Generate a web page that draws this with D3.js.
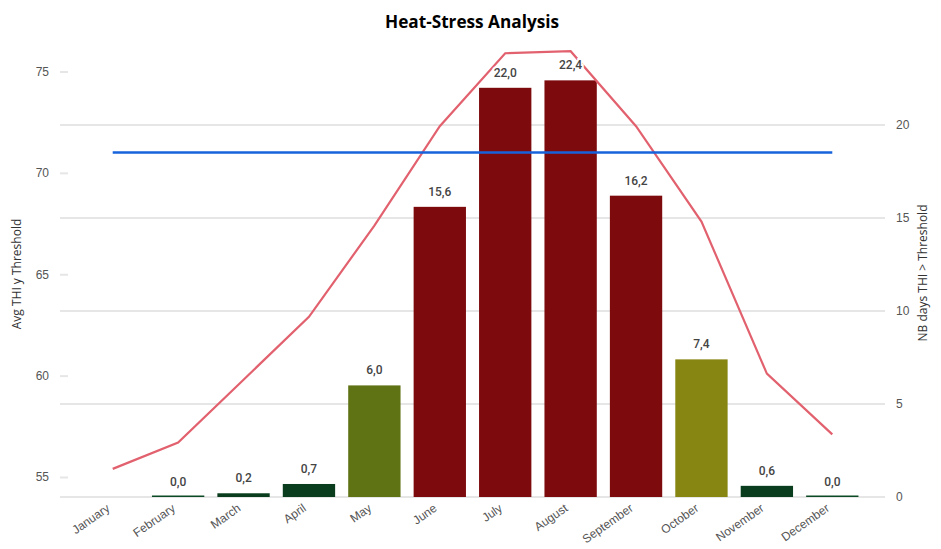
<!DOCTYPE html>
<html>
<head>
<title>Heat-Stress Analysis</title>
<script src="https://d3js.org/d3.v7.min.js"></script>
<style>
    html, body { margin: 0; padding: 0; background: white; }
    svg { display: block; font-family: 'Open Sans', sans-serif; }
    .grid line { stroke: #e6e6e6; stroke-width: 2; }
    .axis text { fill: #555; font-size: 12px; }
    .axis path { display: none; }
    .axis line { stroke: #e6e6e6; stroke-width: 2; }
</style>
</head>
<body>
<svg></svg>
<script>
let width = 941, height = 549

let months = ["January", "February", "March", "April", "May", "June", "July", "August", "September", "October", "November", "December"]
// NB days THI > Threshold (January has no bar)
let nbDays = [null, 0.0, 0.2, 0.7, 6.0, 15.6, 22.0, 22.4, 16.2, 7.4, 0.6, 0.0]
let barColors = [null, "#0c4a26", "#0a3d1d", "#0a3d1d", "#5f7314", "#7d0b0e", "#7d0b0e", "#7d0b0e", "#7d0b0e", "#878613", "#0a3d1d", "#0c4a26"]
// Avg THI
let avgThi = [55.4, 56.7, 59.8, 62.9, 67.4, 72.3, 75.9, 76.0, 72.3, 67.6, 60.1, 57.1]
let threshold = [71, 71, 71, 71, 71, 71, 71, 71, 71, 71, 71, 71]
let leftTicks = [55, 60, 65, 70, 75]
let rightTicks = [0, 5, 10, 15, 20]

let svg = d3.select("svg")
    .attr("width", width)
    .attr("height", height)

let x = d3.scaleBand().domain(months).range([80, 865]).paddingInner(0.2).paddingOuter(0.1)
let yLeft = d3.scaleLinear().domain([55, 75]).range([477, 71.5])
let yRight = d3.scaleLinear().domain([0, 20]).range([497, 125])
let cx = m => x(m) + x.bandwidth() / 2
let barHeight = m => Math.max(yRight(0) - yRight(nbDays[months.indexOf(m)]), 1.5)

//Gridlines follow the right axis
svg.append("g")
    .attr("class", "grid")
    .selectAll("line")
    .data(rightTicks)
    .enter()
    .append("line")
    .attr("x1", 60)
    .attr("x2", 885)
    .attr("y1", d => yRight(d))
    .attr("y2", d => yRight(d))

//Bars
svg.append("g")
    .selectAll("rect")
    .data(months.filter((m, i) => nbDays[i] !== null))
    .enter()
    .append("rect")
    .attr("x", m => x(m))
    .attr("width", x.bandwidth())
    .attr("y", m => yRight(0) - barHeight(m))
    .attr("height", m => barHeight(m))
    .attr("fill", m => barColors[months.indexOf(m)])

//Lines
let lineThi = d3.line().x((d, i) => cx(months[i])).y(d => yLeft(d))

svg.append("path")
    .attr("d", lineThi(avgThi))
    .attr("fill", "none")
    .attr("stroke", "#e2616e")
    .attr("stroke-width", 2.2)

svg.append("path")
    .attr("d", lineThi(threshold))
    .attr("fill", "none")
    .attr("stroke", "#1763dc")
    .attr("stroke-width", 2.5)

//Data labels
svg.append("g")
    .selectAll("text")
    .data(months.filter((m, i) => nbDays[i] !== null))
    .enter()
    .append("text")
    .attr("x", m => cx(m))
    .attr("y", m => yRight(nbDays[months.indexOf(m)]) - 11)
    .attr("text-anchor", "middle")
    .attr("font-family", "Roboto, sans-serif")
    .attr("font-size", "12px")
    .attr("font-weight", 500)
    .attr("fill", "#444")
    .attr("stroke", "white")
    .attr("stroke-width", 4)
    .attr("paint-order", "stroke")
    .text(m => nbDays[months.indexOf(m)].toFixed(1).replace(".", ","))

//Axes
svg.append("g")
    .attr("class", "axis")
    .attr("transform", "translate(68,0)")
    .call(d3.axisLeft(yLeft).tickValues(leftTicks).tickSize(8).tickPadding(11))

svg.append("g")
    .attr("class", "axis")
    .attr("transform", "translate(885,0)")
    .call(d3.axisRight(yRight).tickValues(rightTicks).tickSize(0).tickPadding(11))

let xAxis = svg.append("g")
    .attr("class", "axis")
    .attr("transform", "translate(0,497)")
    .call(d3.axisBottom(x).tickSize(0).tickPadding(0))

xAxis.selectAll("text")
    .attr("text-anchor", "end")
    .attr("dy", 0)
    .attr("transform", "translate(-2,13) rotate(-35)")

//Titles
svg.append("text")
    .attr("x", 472)
    .attr("y", 28)
    .attr("text-anchor", "middle")
    .attr("font-size", "17.2px")
    .attr("font-weight", 700)
    .attr("fill", "#000")
    .text("Heat-Stress Analysis")

svg.append("text")
    .attr("transform", "translate(21,274) rotate(-90)")
    .attr("text-anchor", "middle")
    .attr("font-size", "12px")
    .attr("fill", "#333")
    .text("Avg THI y Threshold")

svg.append("text")
    .attr("transform", "translate(927,273) rotate(-90)")
    .attr("text-anchor", "middle")
    .attr("font-size", "12px")
    .attr("fill", "#333")
    .text("NB days THI > Threshold")
</script>
</body>
</html>
